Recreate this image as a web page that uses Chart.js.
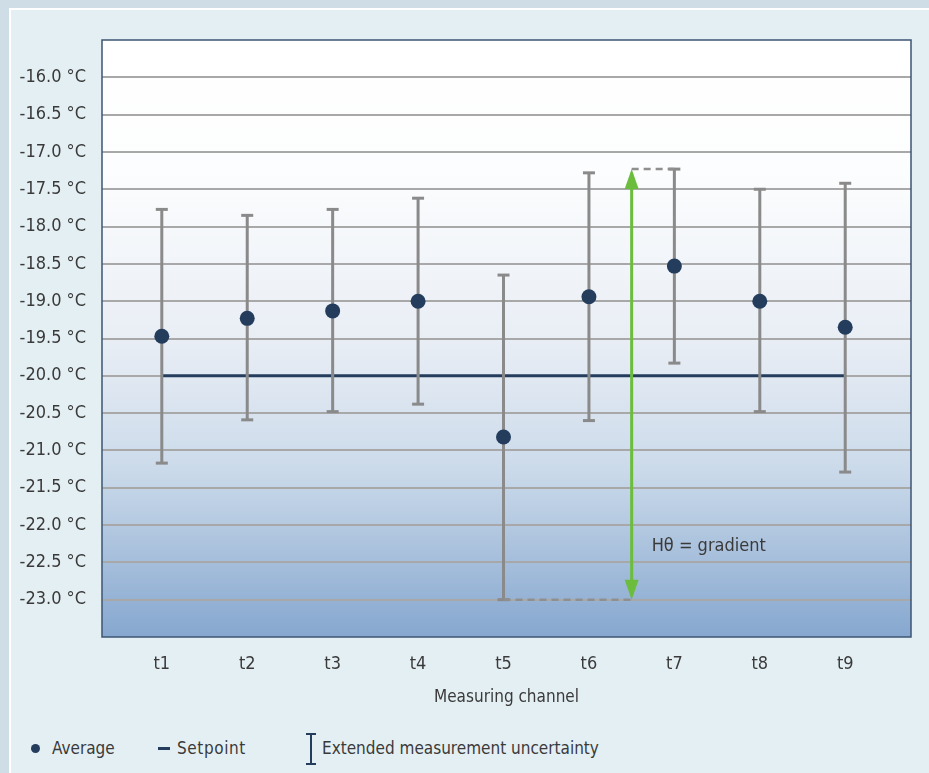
<!DOCTYPE html>
<html>
<head>
<meta charset="utf-8">
<script src="https://cdn.jsdelivr.net/npm/chart.js@4/dist/chart.umd.min.js"></script>
<style>
html,body{margin:0;padding:0;}
body{width:929px;height:773px;background:#cfdde6;position:relative;overflow:hidden;font-family:"Liberation Sans Narrow","DejaVu Sans Condensed",sans-serif;color:#3a3a3a;}
#panel{position:absolute;left:9px;top:8px;right:0;bottom:0;background:#e4eff4;border-top:2px solid #fff;border-left:2px solid #fff;}
#wrap{position:absolute;left:0;top:0;width:929px;height:720px;}
.lt{position:absolute;top:737px;font-size:17px;line-height:22px;white-space:nowrap;}
.sym{position:absolute;background:#243d5c;}
</style>
</head>
<body>
<div id="panel"></div>
<div id="wrap"><canvas id="c" width="929" height="720"></canvas></div>

<div class="sym" style="left:31px;top:744px;width:9px;height:9px;border-radius:50%;"></div>
<div class="lt" style="left:52px;">Average</div>
<div class="sym" style="left:158px;top:747px;width:12px;height:3px;"></div>
<div class="lt" style="left:177px;letter-spacing:0.6px;">Setpoint</div>
<div class="sym" style="left:310px;top:733px;width:2px;height:32px;"></div>
<div class="sym" style="left:306px;top:733px;width:10px;height:2px;"></div>
<div class="sym" style="left:306px;top:763px;width:10px;height:2px;"></div>
<div class="lt" style="left:322px;">Extended measurement uncertainty</div>

<script>
// ---- data ----
const categories = ['t1','t2','t3','t4','t5','t6','t7','t8','t9'];
const averages   = [-19.47,-19.23,-19.13,-19.00,-20.82,-18.94,-18.53,-19.00,-19.35];
const upperLimit = [-17.77,-17.85,-17.77,-17.62,-18.65,-17.28,-17.23,-17.50,-17.42];
const lowerLimit = [-21.17,-20.59,-20.48,-20.38,-23.00,-20.60,-19.83,-20.48,-21.29];
const setpoint   = -20.0;
const yMin = -23.5, yMax = -15.5, yStep = 0.5;
const gradientLabel = 'Hθ = gradient';

// ---- derived ----
const xs = categories.map((c,i)=>i+1);
const gTop = Math.max(...upperLimit), gBot = Math.min(...lowerLimit);
const iTop = upperLimit.indexOf(gTop), iBot = lowerLimit.indexOf(gBot);
const gX = 6.5;
const errData = [];
xs.forEach((x,i)=>{ errData.push({x:x,y:lowerLimit[i]},{x:x,y:upperLimit[i]},{x:x,y:null}); });

const NAVY = '#243d5c', GRAY = '#8a8a8a', GREEN = '#6cbd3e';
const FONT = '"Liberation Sans Narrow","DejaVu Sans Condensed",sans-serif';

const bgPlugin = {
  id:'bg',
  beforeDraw(chart){
    const {ctx, chartArea:a} = chart;
    const g = ctx.createLinearGradient(0,a.top,0,a.bottom);
    g.addColorStop(0,'#ffffff');
    g.addColorStop(0.22,'#fcfdfe');
    g.addColorStop(0.5,'#e9eef5');
    g.addColorStop(0.72,'#cbdaea');
    g.addColorStop(1,'#86a7cf');
    ctx.save(); ctx.fillStyle=g; ctx.fillRect(a.left,a.top,a.right-a.left,a.bottom-a.top); ctx.restore();
  },
  afterDraw(chart){
    const {ctx, chartArea:a, scales} = chart;
    ctx.save();
    ctx.strokeStyle='#3c5573'; ctx.lineWidth=1.5;
    ctx.strokeRect(a.left,a.top,a.right-a.left,a.bottom-a.top);
    // arrowheads
    const px = scales.x.getPixelForValue(gX);
    const yT = scales.y.getPixelForValue(gTop), yB = scales.y.getPixelForValue(gBot);
    ctx.fillStyle=GREEN;
    ctx.beginPath(); ctx.moveTo(px,yT); ctx.lineTo(px-7,yT+20); ctx.lineTo(px+7,yT+20); ctx.closePath(); ctx.fill();
    ctx.beginPath(); ctx.moveTo(px,yB); ctx.lineTo(px-7,yB-20); ctx.lineTo(px+7,yB-20); ctx.closePath(); ctx.fill();
    // label
    ctx.fillStyle='#3a3a3a'; ctx.font='18px '+FONT; ctx.textBaseline='middle'; ctx.textAlign='left';
    ctx.fillText(gradientLabel, px+20, scales.y.getPixelForValue(-22.28));
    ctx.restore();
  }
};

new Chart(document.getElementById('c'), {
  type:'line',
  data:{
    datasets:[
      {label:'Average', type:'scatter', data:xs.map((x,i)=>({x:x,y:averages[i]})), pointRadius:7.5, pointHoverRadius:7.5,
       pointBackgroundColor:NAVY, pointBorderColor:NAVY, pointBorderWidth:0, showLine:false, order:0},
      {label:'Gradient', data:[{x:gX,y:gTop-0.05},{x:gX,y:gBot+0.05}], borderColor:GREEN, borderWidth:3, pointRadius:0, order:1},
      {label:'DashTop', data:[{x:gX,y:gTop},{x:xs[iTop],y:gTop}], borderColor:'#8f8f8f', borderWidth:2.5, borderDash:[7,5], pointRadius:0, order:2},
      {label:'DashBot', data:[{x:xs[iBot],y:gBot},{x:gX,y:gBot}], borderColor:'#8f8f8f', borderWidth:2.5, borderDash:[7,5], pointRadius:0, order:2},
      {label:'Uncertainty', data:errData, borderColor:GRAY, borderWidth:3, spanGaps:false,
       pointStyle:'line', pointRadius:6, pointHoverRadius:6, pointBorderColor:GRAY, pointBorderWidth:3, order:3},
      {label:'Setpoint', data:[{x:xs[0],y:setpoint},{x:xs[xs.length-1],y:setpoint}], borderColor:NAVY, borderWidth:3, pointRadius:0, order:4}
    ]
  },
  options:{
    responsive:false, animation:false, events:[],
    layout:{padding:{top:40,right:18,left:0,bottom:0}},
    plugins:{legend:{display:false}, tooltip:{enabled:false}},
    scales:{
      x:{type:'linear', min:0.3, max:9.77,
        afterBuildTicks(s){ s.ticks = xs.map(v=>({value:v})); },
        afterFit(s){ s.height = 83; },
        grid:{display:false}, border:{display:false},
        ticks:{autoSkip:false, maxRotation:0, padding:9, color:'#3a3a3a', font:{family:FONT,size:18},
          callback:(v)=>categories[Math.round(v)-1]},
        title:{display:true, text:'Measuring channel', color:'#3a3a3a', font:{family:FONT,size:17}, padding:{top:0,bottom:12}}
      },
      y:{type:'linear', min:yMin, max:yMax,
        afterFit(s){ s.width = 102; },
        border:{display:false},
        grid:{drawTicks:false, lineWidth:2, color:(c)=> (c.tick && (c.tick.value===yMin || c.tick.value===yMax)) ? 'rgba(0,0,0,0)' : '#a8a8a8'},
        ticks:{stepSize:yStep, padding:16, color:'#3a3a3a', font:{family:FONT,size:18},
          callback:(v)=> (v===yMin||v===yMax) ? '' : v.toFixed(1)+' °C'}
      }
    }
  },
  plugins:[bgPlugin]
});
</script>
</body>
</html>
